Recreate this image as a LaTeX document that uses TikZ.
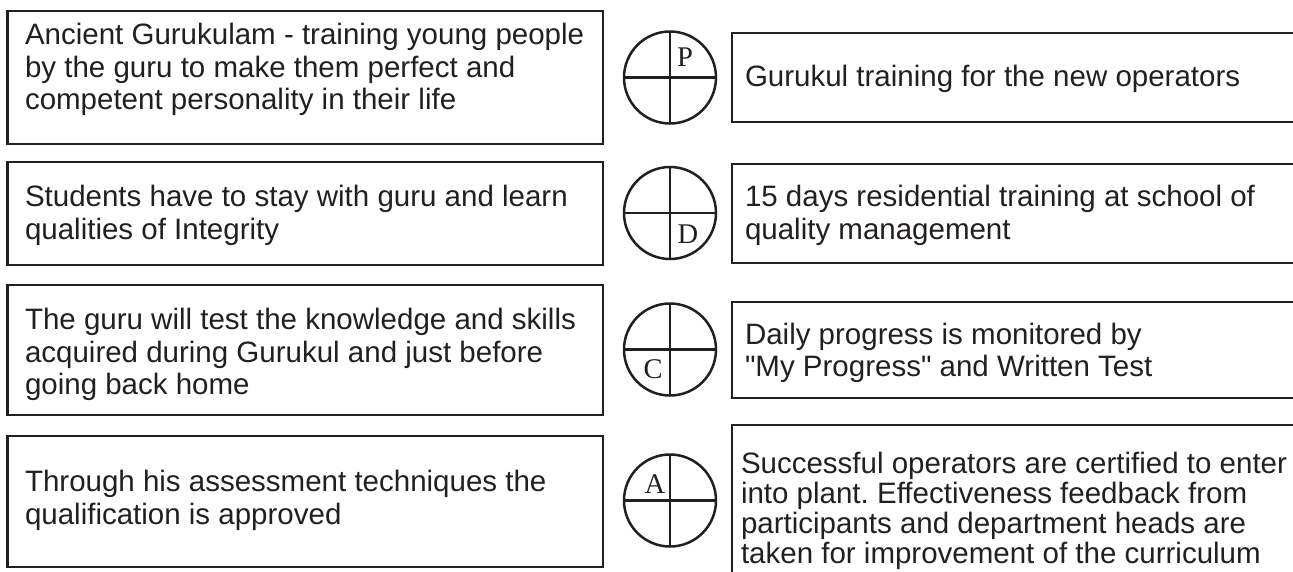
\documentclass[tikz,border=0pt]{standalone}
\usepackage{fontspec}
% TeXOff keeps the typed " as a straight quote
\setmainfont{Liberation Sans}[Ligatures=TeXOff]
\newfontfamily\letterfont{Liberation Serif}
\definecolor{ink}{HTML}{231F20}
% zero-width strut fixing the height of each first text line
\newcommand{\firstline}{\rule{0pt}{22pt}}
\frenchspacing
\begin{document}
\begin{tikzpicture}[x=1pt,y=-1pt,
  frame/.style={draw=ink, line width=2.6pt, rectangle, inner sep=0pt, outer sep=0pt, anchor=north west},
  words/.style={anchor=north west, inner sep=0pt, outer sep=0pt, align=left, text=ink,
                font=\fontsize{29.5}{32.5}\selectfont},
  wheel/.style={draw=ink, line width=2.5pt, circle, minimum size=92pt, inner sep=0pt, outer sep=0pt},
  spoke/.style={draw=ink, line width=2.5pt},
  letter/.style={text=ink, inner sep=0pt, font=\letterfont\fontsize{28.5}{28.5}\selectfont}
]
\useasboundingbox (0,0) rectangle (1293,571);
\clip (0,0) rectangle (1293,571);

% left column: the ancient practice
\node[frame, minimum width=595.5pt, minimum height=133pt] (l1) at (7.5,11) {};
\node[frame, minimum width=595.5pt, minimum height=103pt] (l2) at (7.5,162) {};
\node[frame, minimum width=595.5pt, minimum height=130pt] (l3) at (7.5,285) {};
\node[frame, minimum width=595.5pt, minimum height=131pt] (l4) at (7.5,436) {};

\node[words] (t1) at (25,22.5) {\firstline Ancient Gurukulam - training young people\\by the guru to make them perfect and\\competent personality in their life};
\node[words] (t2) at (25,184.5) {\firstline Students have to stay with guru and learn\\qualities of Integrity};
\node[words] (t3) at (25,307.5) {\firstline The guru will test the knowledge and skills\\acquired during Gurukul and just before\\going back home};
\node[words] (t4) at (25,469.5) {\firstline Through his assessment techniques the\\qualification is approved};

% right column: the operator training, boxes run past the page edge
\node[frame, minimum width=600pt, minimum height=89pt] (r1) at (732,33) {};
\node[frame, minimum width=600pt, minimum height=99pt] (r2) at (732,164) {};
\node[frame, minimum width=600pt, minimum height=96pt] (r3) at (732,302) {};
\node[frame, minimum width=600pt, minimum height=180pt] (r4) at (732,425) {};

\node[words] (s1) at (745,64) {\firstline Gurukul training for the new operators};
\node[words] (s2) at (745,184.5) {\firstline 15 days residential training at school of\\quality management};
\node[words] (s3) at (745,322) {\firstline Daily progress is monitored by\\"My Progress" and Written Test};
\node[words, font=\fontsize{29.5}{30}\selectfont] (s4) at (741,451) {\firstline Successful operators are certified to enter\\into plant. Effectiveness feedback from\\participants and department heads are\\taken for improvement of the curriculum};

% PDCA wheels
\foreach \name/\cy in {cp/77.5, cd/213, cc/349.5, ca/500.5} {
  \node[wheel] (\name) at (670,\cy) {};
  \draw[spoke] (\name.north) -- (\name.south);
  \draw[spoke] (\name.west) -- (\name.east);
}
\node[letter] (lp) at ([shift={(15,-20)}]cp.center) {P};
\node[letter] (ld) at ([shift={(18,21)}]cd.center) {D};
\node[letter] (lc) at ([shift={(-17,19.5)}]cc.center) {C};
\node[letter] (la) at ([shift={(-15,-16.5)}]ca.center) {A};
\end{tikzpicture}
\end{document}
